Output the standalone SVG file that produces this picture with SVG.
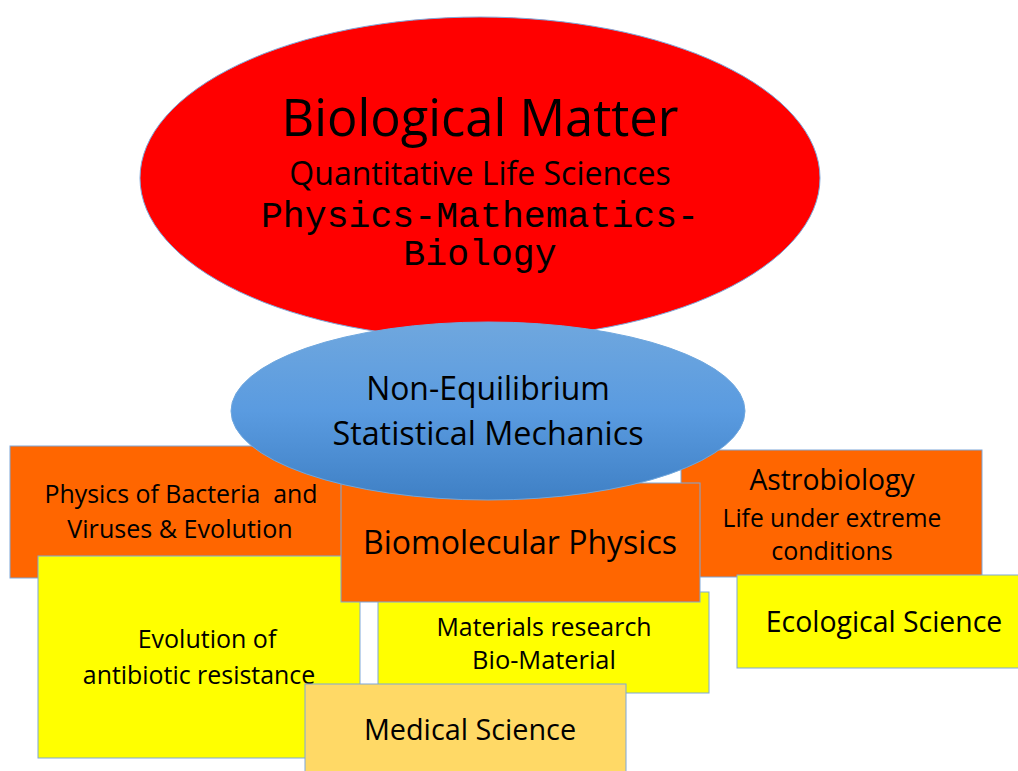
<svg xmlns="http://www.w3.org/2000/svg" width="1018" height="771" viewBox="0 0 1018 771">
  <style>
    .box { stroke: #7FA7D9; stroke-width: 1; }
    .orange { fill: #FF6600; }
    .yellow { fill: #FFFF00; }
    .pale { fill: #FFD966; }
    .t { font-family: "Open Sans", Lato, sans-serif; fill: #000; text-anchor: middle; }
    .m { font-family: "Liberation Mono", monospace; fill: #000; text-anchor: middle; }
  </style>
  <defs>
    <linearGradient id="blueFill" x1="0" y1="0" x2="0" y2="1">
      <stop offset="0" stop-color="#6FA7DE"/>
      <stop offset="0.5" stop-color="#5A9BE0"/>
      <stop offset="1" stop-color="#3F80C5"/>
    </linearGradient>
  </defs>
  <rect width="1018" height="771" fill="#FFFFFF"/>

  <g id="biological-matter">
    <ellipse cx="480" cy="178" rx="340" ry="161" fill="#FF0000" stroke="#7FA7D9" stroke-width="1"/>
    <text class="t" x="480" y="136" font-size="50.7">Biological Matter</text>
    <text class="t" x="480" y="185" font-size="32">Quantitative Life Sciences</text>
    <text class="m" x="480" y="227" font-size="36.5">Physics-Mathematics-</text>
    <text class="m" x="480" y="265" font-size="36.5">Biology</text>
  </g>

  <g id="bacteria-viruses">
    <rect class="box orange" x="10" y="446" width="335" height="132"/>
    <text class="t" x="181" y="503" font-size="24.9" xml:space="preserve">Physics of Bacteria  and</text>
    <text class="t" x="180" y="538" font-size="25.1">Viruses &amp; Evolution</text>
  </g>

  <g id="astrobiology">
    <rect class="box orange" x="681" y="450" width="301" height="127"/>
    <text class="t" x="832" y="490" font-size="28.3">Astrobiology</text>
    <text class="t" x="832" y="527" font-size="24.6">Life under extreme</text>
    <text class="t" x="832" y="560" font-size="25">conditions</text>
  </g>

  <g id="antibiotic-resistance">
    <rect class="box yellow" x="38" y="556" width="322" height="202"/>
    <text class="t" x="207" y="648" font-size="25">Evolution of</text>
    <text class="t" x="199" y="684" font-size="24.9">antibiotic resistance</text>
  </g>

  <g id="materials-research">
    <rect class="box yellow" x="378" y="592" width="331" height="101"/>
    <text class="t" x="544" y="636" font-size="24.9">Materials research</text>
    <text class="t" x="544" y="669" font-size="25.4">Bio-Material</text>
  </g>

  <g id="ecological-science">
    <rect class="box yellow" x="737" y="575" width="285" height="93"/>
    <text class="t" x="884" y="632" font-size="28.4">Ecological Science</text>
  </g>

  <g id="biomolecular-physics">
    <rect class="box orange" x="341" y="483" width="359" height="119"/>
    <text class="t" x="520" y="554" font-size="32">Biomolecular Physics</text>
  </g>

  <g id="non-equilibrium">
    <ellipse cx="488" cy="411" rx="257" ry="89" fill="url(#blueFill)" stroke="#6FA7DE" stroke-width="1"/>
    <text class="t" x="488" y="400" font-size="31.9">Non-Equilibrium</text>
    <text class="t" x="488" y="445" font-size="32.3">Statistical Mechanics</text>
  </g>

  <g id="medical-science">
    <rect class="box pale" x="305" y="684" width="321" height="92"/>
    <text class="t" x="470" y="740" font-size="28.8">Medical Science</text>
  </g>

  <g id="connectors"/>
</svg>
